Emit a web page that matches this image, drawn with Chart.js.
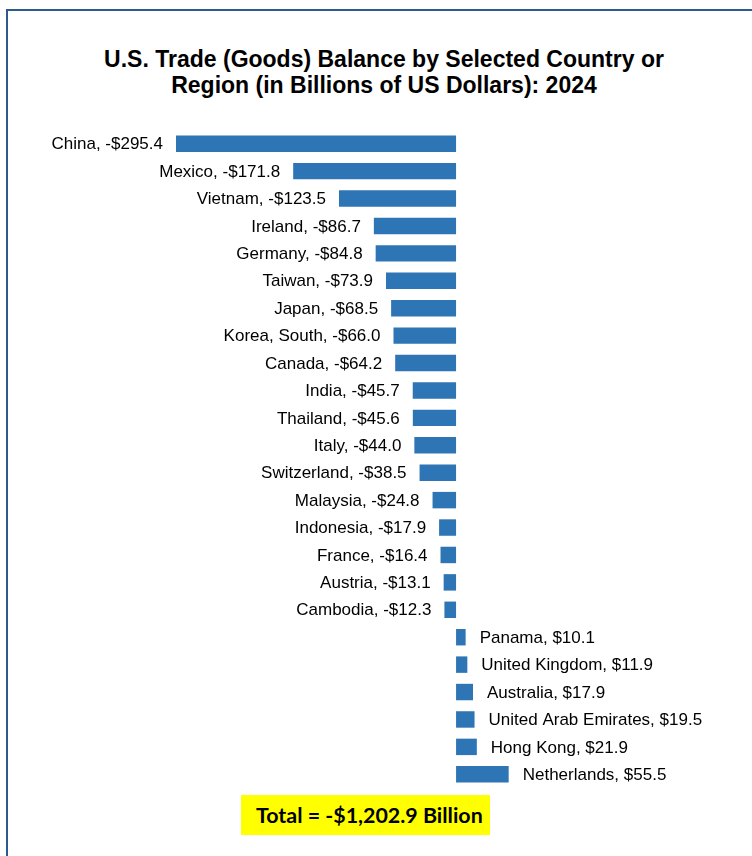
<!DOCTYPE html>
<html>
<head>
<meta charset="utf-8">
<script src="https://cdn.jsdelivr.net/npm/chart.js@4"></script>
<style>
  html, body { margin: 0; padding: 0; background: #fff; }
  body { width: 752px; height: 856px; position: relative; overflow: hidden; }
  #frame { position: absolute; left: 6px; top: 9px; width: 760px; height: 900px; border: 2px solid #2c5a8c; box-sizing: border-box; }
  #title { position: absolute; left: 0; top: 46px; width: 768px; text-align: center;
    font: bold 23px "Liberation Sans", Arial, sans-serif; line-height: 26px; color: #000; }
  #total { position: absolute; left: 241px; top: 795px; width: 249px; height: 40px; background: #ffff00;
    font: bold 21.4px Lato, "Liberation Sans", sans-serif; line-height: 40px; padding-left: 15px;
    box-sizing: border-box; text-align: left; white-space: nowrap; color: #000; }
  canvas { position: absolute; left: 0; top: 0; }
</style>
</head>
<body>
<div id="frame"></div>
<div id="title">U.S. Trade (Goods) Balance by Selected Country or<br>Region (in Billions of US Dollars): 2024</div>
<canvas id="chart" width="752" height="856"></canvas>
<div id="total">Total = -$1,202.9 Billion</div>
<script>
const countries = ['China', 'Mexico', 'Vietnam', 'Ireland', 'Germany', 'Taiwan', 'Japan', 'Korea, South',
  'Canada', 'India', 'Thailand', 'Italy', 'Switzerland', 'Malaysia', 'Indonesia', 'France', 'Austria',
  'Cambodia', 'Panama', 'United Kingdom', 'Australia', 'United Arab Emirates', 'Hong Kong', 'Netherlands'];
const balance = [-295.4, -171.8, -123.5, -86.7, -84.8, -73.9, -68.5, -66.0, -64.2, -45.7, -45.6, -44.0,
  -38.5, -24.8, -17.9, -16.4, -13.1, -12.3, 10.1, 11.9, 17.9, 19.5, 21.9, 55.5];

function fmt(c, v) {
  return c + ', ' + (v < 0 ? '-' : '') + '$' + Math.abs(v).toFixed(1);
}

// labels beside each bar: left of negative bars, right of positive ones
const barLabels = {
  id: 'barLabels',
  afterDatasetsDraw(chart) {
    const ctx = chart.ctx;
    const meta = chart.getDatasetMeta(0);
    ctx.save();
    ctx.font = '17px "Liberation Sans", Arial, sans-serif';
    ctx.fillStyle = '#000';
    ctx.textBaseline = 'middle';
    meta.data.forEach((bar, i) => {
      const v = balance[i];
      const txt = fmt(countries[i], v);
      if (v < 0) {
        ctx.textAlign = 'right';
        ctx.fillText(txt, bar.x - 13, bar.y + 1);
      } else {
        ctx.textAlign = 'left';
        ctx.fillText(txt, bar.x + 14, bar.y + 1);
      }
    });
    ctx.restore();
  }
};

new Chart(document.getElementById('chart').getContext('2d'), {
  type: 'bar',
  data: {
    labels: countries,
    datasets: [{
      data: balance,
      backgroundColor: '#2e75b6',
      barPercentage: 0.6,
      categoryPercentage: 1
    }]
  },
  options: {
    indexAxis: 'y',
    responsive: false,
    animation: false,
    layout: { padding: { left: 176, right: 21, top: 130, bottom: 68 } },
    scales: {
      x: { display: false, min: -295.4, max: 290 },
      y: { display: false }
    },
    plugins: {
      legend: { display: false },
      tooltip: { enabled: false }
    }
  },
  plugins: [barLabels]
});
</script>
</body>
</html>
